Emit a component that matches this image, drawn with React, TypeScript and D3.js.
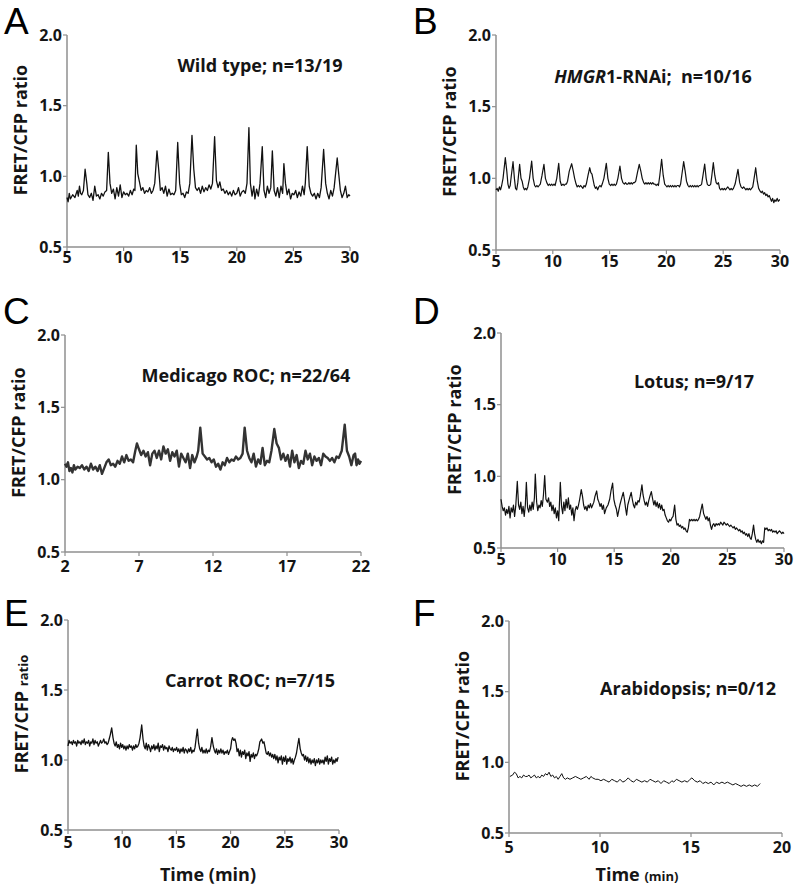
import React from 'react';
import * as d3 from 'd3';

type Pt = [number, number];

// ---------- data (time in min, FRET/CFP ratio) ----------
const wildType: Pt[] = [[5.0,0.85],[5.1,0.82],[5.2,0.88],[5.3,0.84],[5.5,0.87],[5.7,0.85],[5.9,0.9],[6.0,0.86],[6.1,0.93],[6.2,0.88],[6.3,0.87],[6.45,0.9],[6.6,1.05],[6.75,0.95],[6.85,0.87],[7.0,0.85],[7.15,0.88],[7.3,0.83],[7.45,0.93],[7.6,0.86],[7.75,0.87],[7.9,0.84],[8.05,0.88],[8.2,0.86],[8.35,0.89],[8.5,0.9],[8.65,1.17],[8.8,0.95],[8.95,0.88],[9.1,0.91],[9.25,0.84],[9.4,0.92],[9.55,0.86],[9.7,0.94],[9.85,0.85],[10.0,0.89],[10.15,0.87],[10.3,0.88],[10.45,0.86],[10.6,0.9],[10.75,0.87],[10.9,0.91],[11.0,0.9],[11.12,1.22],[11.25,1.02],[11.4,0.96],[11.55,0.9],[11.7,0.92],[11.85,0.88],[12.0,0.9],[12.15,0.89],[12.3,0.92],[12.45,0.88],[12.6,0.9],[12.75,0.95],[12.95,1.18],[13.1,1.05],[13.25,0.9],[13.4,0.92],[13.55,0.88],[13.7,0.93],[13.85,0.86],[14.0,0.91],[14.15,0.87],[14.3,0.88],[14.45,0.87],[14.6,0.9],[14.78,1.24],[14.95,0.95],[15.1,0.87],[15.25,0.88],[15.4,0.85],[15.55,0.89],[15.7,0.88],[15.85,0.95],[16.04,1.29],[16.2,1.05],[16.35,0.92],[16.5,0.9],[16.65,0.92],[16.8,0.88],[16.95,0.93],[17.1,0.89],[17.25,0.92],[17.4,0.9],[17.55,0.94],[17.7,0.91],[17.85,0.95],[18.04,1.28],[18.2,0.97],[18.35,0.92],[18.5,0.96],[18.65,0.9],[18.8,0.91],[18.95,0.88],[19.1,0.9],[19.25,0.87],[19.4,0.89],[19.55,0.86],[19.7,0.9],[19.85,0.87],[20.0,0.88],[20.15,0.92],[20.3,0.86],[20.45,0.89],[20.6,0.9],[20.75,0.88],[20.9,0.95],[21.07,1.345],[21.2,0.95],[21.35,0.86],[21.5,0.93],[21.6,0.84],[21.75,0.91],[21.9,0.86],[22.05,0.95],[22.25,1.21],[22.4,0.9],[22.55,0.85],[22.7,0.93],[22.85,0.88],[23.0,0.92],[23.14,1.18],[23.3,0.9],[23.45,0.86],[23.6,0.92],[23.75,0.85],[23.9,0.93],[24.05,0.88],[24.16,1.09],[24.3,0.95],[24.45,0.87],[24.6,0.91],[24.75,0.84],[24.9,0.88],[25.05,0.87],[25.2,0.9],[25.35,0.85],[25.5,0.89],[25.65,0.86],[25.8,0.93],[25.95,0.87],[26.05,0.95],[26.22,1.21],[26.4,0.93],[26.55,0.88],[26.7,0.86],[26.85,0.88],[27.0,0.84],[27.15,0.88],[27.3,0.85],[27.45,0.92],[27.67,1.19],[27.85,0.95],[28.0,0.88],[28.15,0.84],[28.3,0.9],[28.45,0.86],[28.6,0.92],[28.87,1.13],[29.0,1.02],[29.15,0.9],[29.3,0.85],[29.45,0.88],[29.6,0.93],[29.75,0.85],[29.9,0.87],[30.0,0.86]];

const hmgrRnai: Pt[] = [[5.0,0.92],[5.1,0.93],[5.2,0.91],[5.3,0.94],[5.4,0.92],[5.5,0.95],[5.62,1.0],[5.82,1.144],[5.95,1.05],[6.05,0.96],[6.15,0.93],[6.25,0.95],[6.35,1.02],[6.5,1.116],[6.62,1.0],[6.72,0.93],[6.82,0.92],[6.92,0.97],[7.08,1.098],[7.2,1.0],[7.3,0.98],[7.4,0.94],[7.5,0.92],[7.6,0.93],[7.7,0.92],[7.8,0.94],[7.95,1.0],[8.14,1.12],[8.27,1.0],[8.4,0.95],[8.5,0.94],[8.6,0.95],[8.7,0.94],[8.8,0.95],[8.9,0.96],[9.05,1.02],[9.22,1.098],[9.35,1.0],[9.47,0.97],[9.6,0.95],[9.7,0.96],[9.8,0.95],[9.9,0.96],[10.0,0.95],[10.1,0.96],[10.2,0.95],[10.35,1.0],[10.52,1.105],[10.65,0.98],[10.77,0.95],[10.9,0.96],[11.0,0.95],[11.1,0.96],[11.2,0.96],[11.3,0.98],[11.45,1.05],[11.66,1.102],[11.8,1.05],[11.92,1.0],[12.05,0.96],[12.15,0.94],[12.25,0.95],[12.35,0.94],[12.45,0.95],[12.55,0.94],[12.65,0.93],[12.75,0.95],[12.85,0.94],[12.95,0.96],[13.1,1.02],[13.25,1.074],[13.35,1.04],[13.45,1.03],[13.55,0.99],[13.65,0.95],[13.75,0.93],[13.85,0.94],[13.95,0.92],[14.05,0.94],[14.15,0.95],[14.25,0.94],[14.35,0.96],[14.5,1.0],[14.71,1.105],[14.85,1.0],[14.97,0.96],[15.1,0.95],[15.2,0.96],[15.3,0.95],[15.4,0.96],[15.5,0.95],[15.6,0.96],[15.73,1.0],[15.91,1.086],[16.05,1.0],[16.17,0.97],[16.3,0.96],[16.4,0.97],[16.5,0.96],[16.6,0.96],[16.7,0.97],[16.8,0.96],[16.9,0.97],[17.0,0.96],[17.1,0.97],[17.2,0.97],[17.3,0.98],[17.45,1.04],[17.61,1.098],[17.75,1.05],[17.87,1.0],[18.0,0.97],[18.1,0.96],[18.2,0.97],[18.3,0.96],[18.4,0.97],[18.5,0.96],[18.6,0.97],[18.7,0.96],[18.8,0.97],[18.9,0.96],[19.0,0.96],[19.1,0.95],[19.2,0.96],[19.3,0.95],[19.42,1.02],[19.58,1.133],[19.72,1.02],[19.85,0.96],[19.95,0.95],[20.05,0.94],[20.15,0.95],[20.25,0.94],[20.35,0.95],[20.45,0.94],[20.55,0.95],[20.65,0.94],[20.75,0.95],[20.85,0.94],[20.95,0.95],[21.05,0.95],[21.15,0.94],[21.25,0.96],[21.37,1.03],[21.52,1.116],[21.65,1.05],[21.77,0.98],[21.9,0.95],[22.0,0.94],[22.1,0.95],[22.2,0.94],[22.3,0.95],[22.4,0.94],[22.5,0.95],[22.6,0.94],[22.7,0.95],[22.8,0.94],[22.9,0.95],[23.0,0.95],[23.1,0.96],[23.22,1.02],[23.37,1.1],[23.5,1.0],[23.6,0.96],[23.7,0.95],[23.8,0.95],[23.9,0.96],[24.0,1.02],[24.13,1.109],[24.26,1.02],[24.38,0.97],[24.48,0.96],[24.58,0.97],[24.68,0.93],[24.78,0.92],[24.9,0.93],[25.0,0.92],[25.1,0.93],[25.2,0.92],[25.3,0.93],[25.4,0.94],[25.5,0.93],[25.6,0.92],[25.7,0.93],[25.8,0.92],[25.9,0.93],[26.05,0.96],[26.3,1.063],[26.45,0.97],[26.57,0.94],[26.7,0.93],[26.8,0.94],[26.9,0.93],[27.0,0.92],[27.1,0.93],[27.2,0.92],[27.3,0.93],[27.4,0.92],[27.5,0.93],[27.6,0.94],[27.72,1.0],[27.86,1.074],[28.0,0.98],[28.12,0.93],[28.25,0.91],[28.35,0.9],[28.45,0.91],[28.55,0.89],[28.65,0.9],[28.75,0.88],[28.85,0.89],[28.95,0.87],[29.05,0.88],[29.15,0.86],[29.25,0.84],[29.35,0.86],[29.45,0.83],[29.55,0.85],[29.65,0.84],[29.75,0.86],[29.85,0.84],[29.95,0.85],[30.0,0.85]];

const medicagoRoc: Pt[] = [[2.0,1.11],[2.1,1.09],[2.2,1.12],[2.3,1.06],[2.4,1.08],[2.5,1.05],[2.6,1.1],[2.7,1.07],[2.85,1.09],[3.0,1.08],[3.15,1.1],[3.3,1.07],[3.45,1.09],[3.6,1.06],[3.75,1.11],[3.9,1.07],[4.05,1.09],[4.2,1.06],[4.35,1.1],[4.5,1.04],[4.65,1.08],[4.8,1.12],[4.95,1.14],[5.1,1.1],[5.25,1.11],[5.4,1.09],[5.55,1.13],[5.7,1.11],[5.85,1.16],[6.0,1.12],[6.15,1.17],[6.3,1.13],[6.45,1.14],[6.6,1.12],[6.75,1.2],[6.86,1.25],[7.0,1.21],[7.15,1.17],[7.3,1.2],[7.45,1.16],[7.6,1.19],[7.75,1.1],[7.9,1.18],[8.05,1.2],[8.2,1.15],[8.35,1.2],[8.5,1.14],[8.65,1.23],[8.8,1.18],[8.95,1.21],[9.1,1.13],[9.25,1.19],[9.4,1.16],[9.55,1.2],[9.7,1.09],[9.85,1.18],[10.0,1.15],[10.15,1.12],[10.3,1.18],[10.45,1.08],[10.6,1.17],[10.75,1.12],[10.9,1.16],[11.0,1.2],[11.14,1.36],[11.3,1.18],[11.45,1.16],[11.6,1.14],[11.75,1.15],[11.9,1.12],[12.05,1.14],[12.2,1.09],[12.35,1.11],[12.5,1.07],[12.65,1.12],[12.8,1.1],[12.95,1.15],[13.1,1.12],[13.25,1.14],[13.4,1.13],[13.55,1.16],[13.7,1.14],[13.85,1.15],[14.0,1.18],[14.14,1.36],[14.3,1.2],[14.45,1.15],[14.6,1.12],[14.75,1.18],[14.9,1.09],[15.05,1.14],[15.2,1.11],[15.35,1.22],[15.5,1.1],[15.65,1.13],[15.8,1.12],[15.95,1.2],[16.14,1.35],[16.3,1.25],[16.45,1.22],[16.6,1.14],[16.75,1.18],[16.9,1.13],[17.05,1.17],[17.2,1.09],[17.35,1.2],[17.5,1.12],[17.65,1.17],[17.8,1.08],[17.95,1.13],[18.1,1.11],[18.25,1.2],[18.4,1.14],[18.55,1.18],[18.7,1.1],[18.85,1.16],[19.0,1.13],[19.15,1.15],[19.3,1.1],[19.45,1.18],[19.6,1.16],[19.75,1.15],[19.9,1.13],[20.05,1.15],[20.2,1.12],[20.35,1.16],[20.5,1.15],[20.7,1.2],[20.9,1.38],[21.05,1.2],[21.2,1.16],[21.35,1.1],[21.5,1.17],[21.6,1.18],[21.7,1.1],[21.8,1.14],[21.9,1.11],[22.0,1.13]];

const lotus: Pt[] = [[5.0,0.84],[5.1,0.79],[5.2,0.76],[5.3,0.78],[5.4,0.73],[5.5,0.77],[5.6,0.74],[5.7,0.79],[5.8,0.71],[5.9,0.78],[6.0,0.75],[6.1,0.8],[6.2,0.72],[6.3,0.79],[6.44,0.965],[6.55,0.8],[6.65,0.77],[6.75,0.82],[6.85,0.74],[6.95,0.79],[7.05,0.72],[7.15,0.8],[7.24,0.958],[7.35,0.78],[7.45,0.75],[7.55,0.8],[7.65,0.76],[7.75,0.82],[7.85,0.77],[7.95,0.85],[8.03,1.016],[8.15,0.82],[8.25,0.76],[8.35,0.8],[8.45,0.78],[8.55,0.83],[8.65,0.79],[8.75,0.87],[8.86,1.005],[8.97,0.84],[9.1,0.82],[9.2,0.85],[9.3,0.79],[9.4,0.82],[9.5,0.76],[9.6,0.8],[9.7,0.74],[9.8,0.78],[9.9,0.71],[10.0,0.76],[10.1,0.69],[10.24,0.958],[10.35,0.79],[10.45,0.74],[10.55,0.82],[10.65,0.76],[10.75,0.84],[10.85,0.78],[10.95,0.85],[11.05,0.77],[11.15,0.8],[11.25,0.73],[11.35,0.78],[11.45,0.69],[11.55,0.76],[11.65,0.79],[11.75,0.77],[11.85,0.8],[11.95,0.84],[12.09,0.907],[12.2,0.86],[12.3,0.8],[12.4,0.77],[12.5,0.79],[12.6,0.76],[12.7,0.8],[12.8,0.78],[12.9,0.81],[13.0,0.78],[13.1,0.8],[13.2,0.82],[13.3,0.86],[13.45,0.898],[13.55,0.84],[13.65,0.82],[13.75,0.79],[13.85,0.81],[13.95,0.77],[14.05,0.8],[14.15,0.74],[14.3,0.78],[14.45,0.8],[14.6,0.84],[14.72,0.9],[14.86,0.953],[14.97,0.84],[15.08,0.8],[15.2,0.77],[15.3,0.72],[15.4,0.76],[15.5,0.8],[15.6,0.83],[15.7,0.86],[15.8,0.888],[15.9,0.84],[16.0,0.78],[16.1,0.73],[16.2,0.8],[16.3,0.83],[16.4,0.86],[16.5,0.888],[16.6,0.84],[16.7,0.8],[16.8,0.78],[16.9,0.82],[17.0,0.8],[17.1,0.83],[17.2,0.82],[17.3,0.86],[17.45,0.94],[17.55,0.87],[17.65,0.83],[17.75,0.8],[17.85,0.82],[17.95,0.79],[18.05,0.83],[18.15,0.86],[18.28,0.893],[18.4,0.84],[18.5,0.8],[18.6,0.83],[18.7,0.79],[18.8,0.82],[18.9,0.78],[19.0,0.81],[19.1,0.77],[19.2,0.8],[19.3,0.76],[19.4,0.77],[19.5,0.73],[19.6,0.71],[19.7,0.69],[19.8,0.68],[19.9,0.7],[20.0,0.69],[20.1,0.71],[20.2,0.72],[20.34,0.8],[20.45,0.7],[20.55,0.66],[20.65,0.67],[20.75,0.65],[20.85,0.66],[20.95,0.64],[21.05,0.65],[21.15,0.63],[21.25,0.64],[21.35,0.62],[21.45,0.61],[21.55,0.64],[21.65,0.7],[21.75,0.69],[21.85,0.7],[21.95,0.69],[22.05,0.7],[22.15,0.69],[22.25,0.7],[22.35,0.69],[22.45,0.7],[22.55,0.72],[22.65,0.76],[22.78,0.807],[22.9,0.74],[23.0,0.72],[23.1,0.7],[23.2,0.72],[23.3,0.69],[23.4,0.71],[23.5,0.66],[23.6,0.63],[23.7,0.66],[23.8,0.67],[23.9,0.65],[24.0,0.67],[24.1,0.66],[24.2,0.67],[24.3,0.66],[24.4,0.68],[24.5,0.67],[24.6,0.66],[24.7,0.68],[24.8,0.67],[24.9,0.66],[25.0,0.67],[25.1,0.66],[25.2,0.65],[25.3,0.66],[25.4,0.65],[25.5,0.64],[25.6,0.65],[25.7,0.63],[25.8,0.64],[25.9,0.63],[26.0,0.62],[26.1,0.63],[26.2,0.61],[26.3,0.62],[26.4,0.6],[26.5,0.61],[26.6,0.59],[26.7,0.6],[26.8,0.58],[26.9,0.6],[27.0,0.57],[27.1,0.56],[27.2,0.6],[27.31,0.66],[27.4,0.6],[27.5,0.56],[27.6,0.54],[27.7,0.56],[27.8,0.54],[27.9,0.55],[28.0,0.53],[28.1,0.55],[28.2,0.54],[28.3,0.64],[28.4,0.63],[28.5,0.64],[28.6,0.62],[28.7,0.63],[28.8,0.62],[28.9,0.63],[29.0,0.61],[29.1,0.62],[29.2,0.61],[29.3,0.62],[29.4,0.6],[29.5,0.61],[29.6,0.62],[29.7,0.61],[29.8,0.6],[29.9,0.61],[30.0,0.6]];

const carrotRoc: Pt[] = [[5.0,1.1],[5.1,1.14],[5.2,1.12],[5.3,1.13],[5.4,1.11],[5.5,1.14],[5.6,1.12],[5.7,1.13],[5.8,1.1],[5.9,1.14],[6.0,1.12],[6.1,1.13],[6.2,1.11],[6.3,1.14],[6.4,1.12],[6.5,1.15],[6.6,1.11],[6.7,1.13],[6.8,1.12],[6.9,1.14],[7.0,1.1],[7.1,1.13],[7.2,1.12],[7.3,1.15],[7.4,1.11],[7.5,1.14],[7.6,1.12],[7.7,1.13],[7.8,1.1],[7.9,1.12],[8.0,1.14],[8.1,1.12],[8.2,1.13],[8.3,1.15],[8.4,1.12],[8.5,1.13],[8.6,1.11],[8.7,1.12],[8.8,1.15],[8.9,1.18],[9.03,1.23],[9.15,1.16],[9.25,1.12],[9.35,1.1],[9.45,1.13],[9.55,1.09],[9.65,1.11],[9.75,1.08],[9.85,1.12],[9.95,1.09],[10.05,1.11],[10.15,1.08],[10.25,1.1],[10.35,1.07],[10.45,1.1],[10.55,1.08],[10.65,1.11],[10.75,1.09],[10.85,1.1],[10.95,1.07],[11.05,1.1],[11.15,1.08],[11.25,1.11],[11.35,1.09],[11.45,1.1],[11.55,1.12],[11.65,1.16],[11.8,1.25],[11.92,1.15],[12.02,1.1],[12.12,1.08],[12.22,1.12],[12.32,1.07],[12.42,1.11],[12.52,1.09],[12.62,1.06],[12.72,1.1],[12.82,1.08],[12.92,1.11],[13.02,1.07],[13.12,1.1],[13.22,1.08],[13.32,1.12],[13.42,1.06],[13.52,1.1],[13.62,1.09],[13.72,1.11],[13.82,1.07],[13.92,1.1],[14.02,1.08],[14.12,1.09],[14.22,1.06],[14.32,1.1],[14.42,1.08],[14.52,1.07],[14.62,1.09],[14.72,1.06],[14.82,1.08],[14.92,1.07],[15.02,1.09],[15.12,1.06],[15.22,1.08],[15.32,1.05],[15.42,1.08],[15.52,1.06],[15.62,1.09],[15.72,1.05],[15.82,1.08],[15.92,1.07],[16.02,1.05],[16.12,1.08],[16.22,1.06],[16.32,1.09],[16.42,1.05],[16.52,1.07],[16.62,1.06],[16.72,1.09],[16.8,1.14],[16.93,1.22],[17.05,1.12],[17.15,1.08],[17.25,1.06],[17.35,1.09],[17.45,1.05],[17.55,1.07],[17.65,1.05],[17.75,1.08],[17.85,1.05],[17.95,1.07],[18.05,1.06],[18.15,1.09],[18.28,1.16],[18.4,1.1],[18.5,1.07],[18.6,1.05],[18.7,1.08],[18.8,1.04],[18.9,1.07],[19.0,1.05],[19.1,1.08],[19.2,1.05],[19.3,1.07],[19.4,1.04],[19.5,1.06],[19.6,1.05],[19.7,1.07],[19.8,1.04],[19.9,1.06],[20.0,1.08],[20.1,1.14],[20.18,1.16],[20.3,1.14],[20.4,1.15],[20.5,1.12],[20.6,1.06],[20.7,1.08],[20.8,1.03],[20.9,1.07],[21.0,1.02],[21.1,1.06],[21.2,1.04],[21.3,1.07],[21.4,1.01],[21.5,1.05],[21.6,1.03],[21.7,1.06],[21.8,0.99],[21.9,1.04],[22.0,1.02],[22.1,1.05],[22.2,1.01],[22.3,1.04],[22.4,1.03],[22.5,1.05],[22.6,1.08],[22.7,1.13],[22.86,1.15],[22.98,1.12],[23.08,1.13],[23.18,1.09],[23.28,1.05],[23.38,1.04],[23.48,1.06],[23.58,1.03],[23.68,1.05],[23.78,1.02],[23.88,1.04],[23.98,1.01],[24.08,1.04],[24.18,1.0],[24.28,1.03],[24.38,0.98],[24.48,1.02],[24.58,1.0],[24.68,1.03],[24.78,0.97],[24.88,1.02],[24.98,0.99],[25.08,1.03],[25.18,0.97],[25.28,1.01],[25.38,0.99],[25.48,1.02],[25.58,0.98],[25.68,1.01],[25.78,0.97],[25.88,1.0],[25.98,1.02],[26.08,1.05],[26.18,1.1],[26.3,1.155],[26.42,1.08],[26.52,1.05],[26.62,1.03],[26.72,1.04],[26.82,1.0],[26.92,1.03],[27.02,0.99],[27.12,1.02],[27.22,0.98],[27.32,1.01],[27.42,0.97],[27.52,1.0],[27.62,0.98],[27.72,1.01],[27.82,0.96],[27.92,1.0],[28.02,0.98],[28.12,1.01],[28.22,0.97],[28.32,1.0],[28.42,0.98],[28.52,1.0],[28.62,0.97],[28.72,1.02],[28.82,0.99],[28.92,1.03],[29.02,0.97],[29.12,1.01],[29.22,0.99],[29.32,1.02],[29.42,0.97],[29.52,1.0],[29.62,0.98],[29.72,1.01],[29.82,0.99],[29.92,1.02]];

const arabidopsis: Pt[] = [[5.05,0.9],[5.2,0.91],[5.3,0.93],[5.4,0.92],[5.5,0.89],[5.6,0.9],[5.7,0.89],[5.8,0.91],[5.9,0.9],[6.0,0.9],[6.1,0.91],[6.2,0.89],[6.3,0.9],[6.4,0.91],[6.5,0.89],[6.6,0.9],[6.7,0.89],[6.8,0.91],[6.9,0.9],[7.0,0.92],[7.1,0.91],[7.2,0.93],[7.3,0.9],[7.4,0.91],[7.5,0.89],[7.6,0.9],[7.7,0.88],[7.8,0.9],[7.9,0.92],[8.0,0.89],[8.1,0.88],[8.2,0.89],[8.35,0.88],[8.5,0.89],[8.65,0.9],[8.8,0.89],[8.95,0.88],[9.1,0.89],[9.25,0.9],[9.4,0.88],[9.5,0.9],[9.6,0.89],[9.75,0.88],[9.9,0.88],[10.05,0.87],[10.2,0.88],[10.35,0.87],[10.5,0.86],[10.65,0.88],[10.8,0.87],[10.95,0.86],[11.1,0.88],[11.25,0.86],[11.4,0.87],[11.55,0.89],[11.7,0.87],[11.85,0.86],[12.0,0.88],[12.15,0.87],[12.3,0.86],[12.45,0.87],[12.6,0.86],[12.75,0.88],[12.9,0.87],[13.05,0.86],[13.2,0.87],[13.35,0.85],[13.5,0.87],[13.65,0.86],[13.8,0.85],[13.95,0.87],[14.05,0.86],[14.2,0.88],[14.35,0.87],[14.5,0.86],[14.65,0.87],[14.8,0.86],[14.95,0.88],[15.05,0.89],[15.2,0.87],[15.35,0.86],[15.5,0.87],[15.65,0.85],[15.8,0.86],[15.95,0.85],[16.1,0.86],[16.25,0.84],[16.4,0.86],[16.55,0.85],[16.7,0.86],[16.85,0.85],[17.0,0.86],[17.15,0.85],[17.3,0.84],[17.45,0.85],[17.6,0.84],[17.75,0.83],[17.9,0.84],[18.05,0.83],[18.2,0.84],[18.35,0.83],[18.5,0.84],[18.65,0.83],[18.8,0.85]];

const yTickValues = [0.5, 1.0, 1.5, 2.0];
const xTicks30 = [5, 10, 15, 20, 25, 30];
const xTicks22 = [2, 7, 12, 17, 22];
const xTicks20 = [5, 10, 15, 20];

// ---------- layout ----------
const AXIS = '#8f8f8f';
const FONT = "'Open Sans', Lato, sans-serif";
const INK = '#151515';

type Panel = {
  letter: string; lx: number; ly: number;
  x0: number; x1: number; yTop: number; yBot: number;
  xDomain: [number, number]; xTicks: number[]; xLabDy: number;
  data: Pt[]; color: string; width: number;
  note: React.ReactNode; noteX: number; noteY: number;
  smallRatio?: boolean;
  xTitle?: React.ReactNode; xTitleX?: number;
};

const panels: Panel[] = [
  { letter: 'A', lx: 4, ly: 34, x0: 67, x1: 350, yTop: 35, yBot: 247, xDomain: [5, 30], xTicks: xTicks30, xLabDy: 16,
    data: wildType, color: '#111', width: 1.3, note: 'Wild type; n=13/19', noteX: 260, noteY: 72 },
  { letter: 'B', lx: 413, ly: 34, x0: 496, x1: 780, yTop: 35, yBot: 250, xDomain: [5, 30], xTicks: xTicks30, xLabDy: 17,
    data: hmgrRnai, color: '#111', width: 1.2,
    note: <><tspan fontStyle="italic">HMGR</tspan><tspan>{'1-RNAi;\u00A0 n=10/16'}</tspan></>, noteX: 653, noteY: 83 },
  { letter: 'C', lx: 3, ly: 324, x0: 65, x1: 361, yTop: 335, yBot: 552, xDomain: [2, 22], xTicks: xTicks22, xLabDy: 20,
    data: medicagoRoc, color: '#333', width: 2.4, note: 'Medicago ROC; n=22/64', noteX: 246, noteY: 382 },
  { letter: 'D', lx: 413, ly: 324, x0: 501, x1: 784, yTop: 333, yBot: 548, xDomain: [5, 30], xTicks: xTicks30, xLabDy: 17,
    data: lotus, color: '#111', width: 1.2, note: 'Lotus; n=9/17', noteX: 694, noteY: 388 },
  { letter: 'E', lx: 4, ly: 626, x0: 68, x1: 339, yTop: 620, yBot: 830, xDomain: [5, 30], xTicks: xTicks30, xLabDy: 18,
    data: carrotRoc, color: '#111', width: 1.3, note: 'Carrot ROC; n=7/15', noteX: 250, noteY: 687, smallRatio: true,
    xTitle: <tspan>Time (min)</tspan>, xTitleX: 208 },
  { letter: 'F', lx: 413, ly: 626, x0: 509, x1: 782, yTop: 621, yBot: 833, xDomain: [5, 20], xTicks: xTicks20, xLabDy: 20,
    data: arabidopsis, color: '#111', width: 1.0, note: 'Arabidopsis; n=0/12', noteX: 688, noteY: 695,
    xTitle: <><tspan>Time </tspan><tspan fontSize={13}>(min)</tspan></>, xTitleX: 637 },
];

function PanelView({ p }: { p: Panel }) {
  const x = d3.scaleLinear().domain(p.xDomain).range([p.x0, p.x1]);
  const y = d3.scaleLinear().domain([0.5, 2.0]).range([p.yBot, p.yTop]);
  const line = d3.line<Pt>().x(d => x(d[0])).y(d => y(d[1]));
  const fmt = d3.format('.1f');
  const titleCy = (p.yTop + p.yBot) / 2 - 11;
  const titleX = p.x0 - 46;
  return (
    <g>
      <text x={p.lx} y={p.ly} fontFamily="'Liberation Sans', Arial, sans-serif" fontSize={37} fill="#000">{p.letter}</text>
      <line x1={p.x0} x2={p.x0} y1={p.yTop} y2={p.yBot} stroke={AXIS} strokeWidth={1.5} />
      <line x1={p.x0} x2={p.x1} y1={p.yBot} y2={p.yBot} stroke={AXIS} strokeWidth={1.5} />
      {yTickValues.map(v => (
        <g key={'y' + v}>
          <line x1={p.x0 - 4} x2={p.x0} y1={y(v)} y2={y(v)} stroke={AXIS} strokeWidth={1.2} />
          <text x={p.x0 - 5} y={y(v)} dy="0.36em" textAnchor="end" fontFamily={FONT} fontWeight="bold" fontSize={16} fill={INK}>{fmt(v)}</text>
        </g>
      ))}
      {p.xTicks.map(v => (
        <g key={'x' + v}>
          <line x1={x(v)} x2={x(v)} y1={p.yBot} y2={p.yBot + 4} stroke={AXIS} strokeWidth={1.2} />
          <text x={x(v)} y={p.yBot + p.xLabDy} textAnchor="middle" fontFamily={FONT} fontWeight="bold" fontSize={16} fill={INK}>{v}</text>
        </g>
      ))}
      <text transform={`translate(${titleX},${titleCy}) rotate(-90)`} dy="0.36em" textAnchor="middle" fontFamily={FONT} fontWeight="bold" fontSize={18} fill={INK}>
        {p.smallRatio ? <><tspan>FRET/CFP </tspan><tspan fontSize={13}>ratio</tspan></> : 'FRET/CFP ratio'}
      </text>
      <path d={line(p.data) || ''} fill="none" stroke={p.color} strokeWidth={p.width} strokeLinejoin="round" />
      <text x={p.noteX} y={p.noteY} textAnchor="middle" fontFamily={FONT} fontWeight="bold" fontSize={18} fill={INK}>{p.note}</text>
      {p.xTitle && (
        <text x={p.xTitleX} y={881} textAnchor="middle" fontFamily={FONT} fontWeight="bold" fontSize={18} fill={INK}>{p.xTitle}</text>
      )}
    </g>
  );
}

export default function App() {
  return (
    <svg width={796} height={887} viewBox="0 0 796 887" style={{ position: 'absolute', left: 0, top: 0, background: '#fff' }}>
      <rect x={0} y={0} width={796} height={887} fill="#fff" />
      {panels.map(p => <PanelView key={p.letter} p={p} />)}
    </svg>
  );
}
